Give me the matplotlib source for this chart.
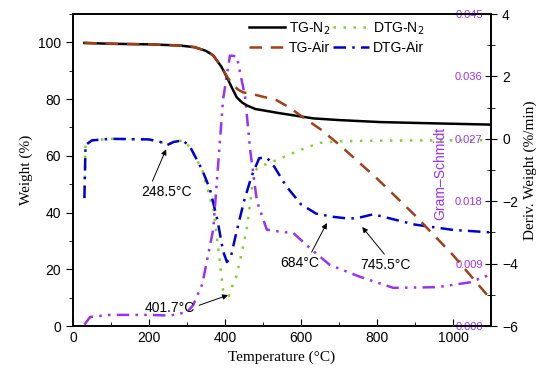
import numpy as np
import matplotlib
matplotlib.use('Agg')
import matplotlib.pyplot as plt
from matplotlib.ticker import MultipleLocator

# TG curves (weight %)
t_n2 = [30, 100, 200, 280, 320, 350, 369, 390, 405, 420, 431, 445, 457, 480, 545, 632, 700, 808, 900, 1000, 1100]
w_n2 = [99.8, 99.5, 99.3, 98.9, 98.3, 97.0, 95.4, 91.5, 87.7, 83.5, 80.6, 78.8, 77.8, 76.5, 75.0, 73.2, 72.6, 71.9, 71.6, 71.3, 71.0]

t_air = [30, 100, 200, 280, 320, 350, 369, 390, 405, 420, 435, 447, 480, 536, 570, 605, 650, 700, 800, 900, 1000, 1092]
w_air = [99.8, 99.5, 99.3, 98.9, 98.3, 97.0, 95.4, 91.5, 88.0, 85.0, 83.3, 82.4, 81.5, 79.6, 77.0, 73.6, 69.5, 64.0, 52.0, 39.0, 25.0, 10.6]

# DTG curves (%/min)
t_dn2 = [30, 33, 50, 100, 200, 230, 248, 265, 290, 310, 340, 370, 385, 395, 410, 421, 430, 445, 457, 471, 480, 500, 536, 600, 650, 700, 800, 1100]
d_dn2 = [-1.9, -0.2, -0.05, 0.0, -0.02, -0.1, -0.2, -0.1, -0.05, -0.3, -1.0, -2.3, -3.8, -4.85, -5.05, -4.65, -4.4, -3.6, -2.9, -1.6, -1.0, -0.85, -0.68, -0.35, -0.13, -0.08, -0.06, -0.04]

t_dair = [30, 33, 50, 100, 200, 230, 248, 265, 290, 310, 340, 360, 380, 395, 405, 415, 430, 450, 470, 490, 510, 530, 560, 600, 640, 684, 720, 745, 790, 850, 900, 1000, 1100]
d_dair = [-1.9, -0.2, -0.05, 0.0, -0.02, -0.1, -0.2, -0.1, -0.05, -0.3, -1.0, -1.6, -2.6, -3.6, -3.95, -3.8, -3.0, -2.0, -1.2, -0.62, -0.6, -0.9, -1.5, -2.1, -2.4, -2.5, -2.55, -2.55, -2.42, -2.6, -2.75, -2.92, -3.0]

# Gram-Schmidt
t_gs = [30, 45, 97, 203, 255, 300, 316, 340, 369, 395, 413, 431, 453, 466, 484, 510, 545, 580, 624, 676, 755, 843, 958, 1045, 1097]
g_gs = [0.0002, 0.0013, 0.0016, 0.0016, 0.0015, 0.002, 0.003, 0.006, 0.0139, 0.0327, 0.039, 0.0389, 0.033, 0.0255, 0.018, 0.0139, 0.0136, 0.0134, 0.0112, 0.0088, 0.0071, 0.0055, 0.0056, 0.0063, 0.0074]

c_brown = '#A0401A'
c_green = '#88CC33'
c_blue = '#0000CC'
c_purple = '#9933EE'

plt.rcParams['font.family'] = ['Liberation Sans', 'DejaVu Sans']
serif = ['Liberation Serif', 'DejaVu Serif']

fig = plt.figure(figsize=(5.5, 3.78), dpi=100)
ax = fig.add_axes([73/550, 52/378, 418/550, 312/378])
ax2 = ax.twinx()
ax3 = ax.twinx()

l1, = ax.plot(t_n2, w_n2, color='black', lw=1.8, label='TG-N$_2$')
l3, = ax.plot(t_air, w_air, color=c_brown, lw=1.8, ls=(0, (5, 3.5)), label='TG-Air')
l2, = ax2.plot(t_dn2, d_dn2, color=c_green, lw=1.8, ls=(0, (1, 3)), label='DTG-N$_2$')
l4, = ax2.plot(t_dair, d_dair, color=c_blue, lw=1.8, ls=(0, (5, 2.5, 1, 2.5)), label='DTG-Air')
ax3.plot(t_gs, g_gs, color=c_purple, lw=1.8, ls=(0, (5, 2.5, 1, 2.5, 1, 2.5)))

ax.set_xlim(0, 1100)
ax.set_ylim(0, 110)
ax2.set_ylim(-6, 4)
ax3.set_ylim(0, 0.045)

ax.xaxis.set_major_locator(MultipleLocator(200))
ax.xaxis.set_minor_locator(MultipleLocator(100))
ax.yaxis.set_major_locator(MultipleLocator(20))
ax.yaxis.set_minor_locator(MultipleLocator(10))
ax.set_yticks([0, 20, 40, 60, 80, 100])
ax2.yaxis.set_major_locator(MultipleLocator(2))
ax2.yaxis.set_minor_locator(MultipleLocator(1))
ax3.set_yticks(np.arange(0, 0.0451, 0.009))
ax3.set_yticklabels(['0.000', '0.009', '0.018', '0.027', '0.036', '0.045'])

ax.tick_params(axis='x', which='both', direction='in', top=False, labelsize=10)
ax.tick_params(axis='x', which='major', length=5)
ax.tick_params(axis='x', which='minor', length=3)
ax.tick_params(axis='y', which='both', direction='out', labelsize=10)
ax.tick_params(axis='y', which='major', length=5)
ax.tick_params(axis='y', which='minor', length=3)
ax2.tick_params(axis='y', which='both', direction='inout', labelsize=10)
ax2.tick_params(axis='y', which='major', length=9)
ax2.tick_params(axis='y', which='minor', length=6)
ax3.tick_params(axis='y', length=0, pad=-6, labelsize=8, labelcolor=c_purple)
for lab in ax3.get_yticklabels():
    lab.set_horizontalalignment('right')
for s in ax3.spines.values():
    s.set_visible(False)
for a in (ax, ax2):
    for s in a.spines.values():
        s.set_linewidth(1.2)

ax.set_xlabel('Temperature (\u00b0C)', family=serif, fontsize=11)
ax.set_ylabel('Weight (%)', family=serif, fontsize=11)
ax2.set_ylabel('Deriv. Weight (%/min)', family=serif, fontsize=11)
ax3.text(0.878, 0.49, 'Gram\u2013Schmidt', transform=ax3.transAxes, rotation=90,
         color=c_purple, fontsize=10, ha='center', va='center')

leg = ax.legend([l1, l3, l2, l4], ['TG-N$_2$', 'TG-Air', 'DTG-N$_2$', 'DTG-Air'],
                ncol=2, frameon=False, loc='upper left', bbox_to_anchor=(0.39, 1.02),
                fontsize=10, handlelength=2.6, handletextpad=0.3, columnspacing=0.2,
                labelspacing=0.3)
ax.set_zorder(ax2.get_zorder() + 1)
ax.patch.set_visible(False)


def arr(rp):
    return dict(arrowstyle='-|>', color='black', lw=0.7, mutation_scale=8,
                relpos=rp, shrinkA=1, shrinkB=0)


ax.annotate('248.5\u00b0C', xy=(245, 62.3), xytext=(247, 47.2), fontsize=10,
            ha='center', va='center', arrowprops=arr((0.18, 1.0)))
ax.annotate('401.7\u00b0C', xy=(408, 10.9), xytext=(255, 6.3), fontsize=10,
            ha='center', va='center', arrowprops=arr((1.0, 0.6)))
ax.annotate('684\u00b0C', xy=(668, 36.3), xytext=(597, 22.2), fontsize=10,
            ha='center', va='center', arrowprops=arr((0.75, 1.0)))
ax.annotate('745.5\u00b0C', xy=(761, 34.9), xytext=(821, 21.5), fontsize=10,
            ha='center', va='center', arrowprops=arr((0.55, 1.0)))

plt.savefig('out.png', dpi=100)
